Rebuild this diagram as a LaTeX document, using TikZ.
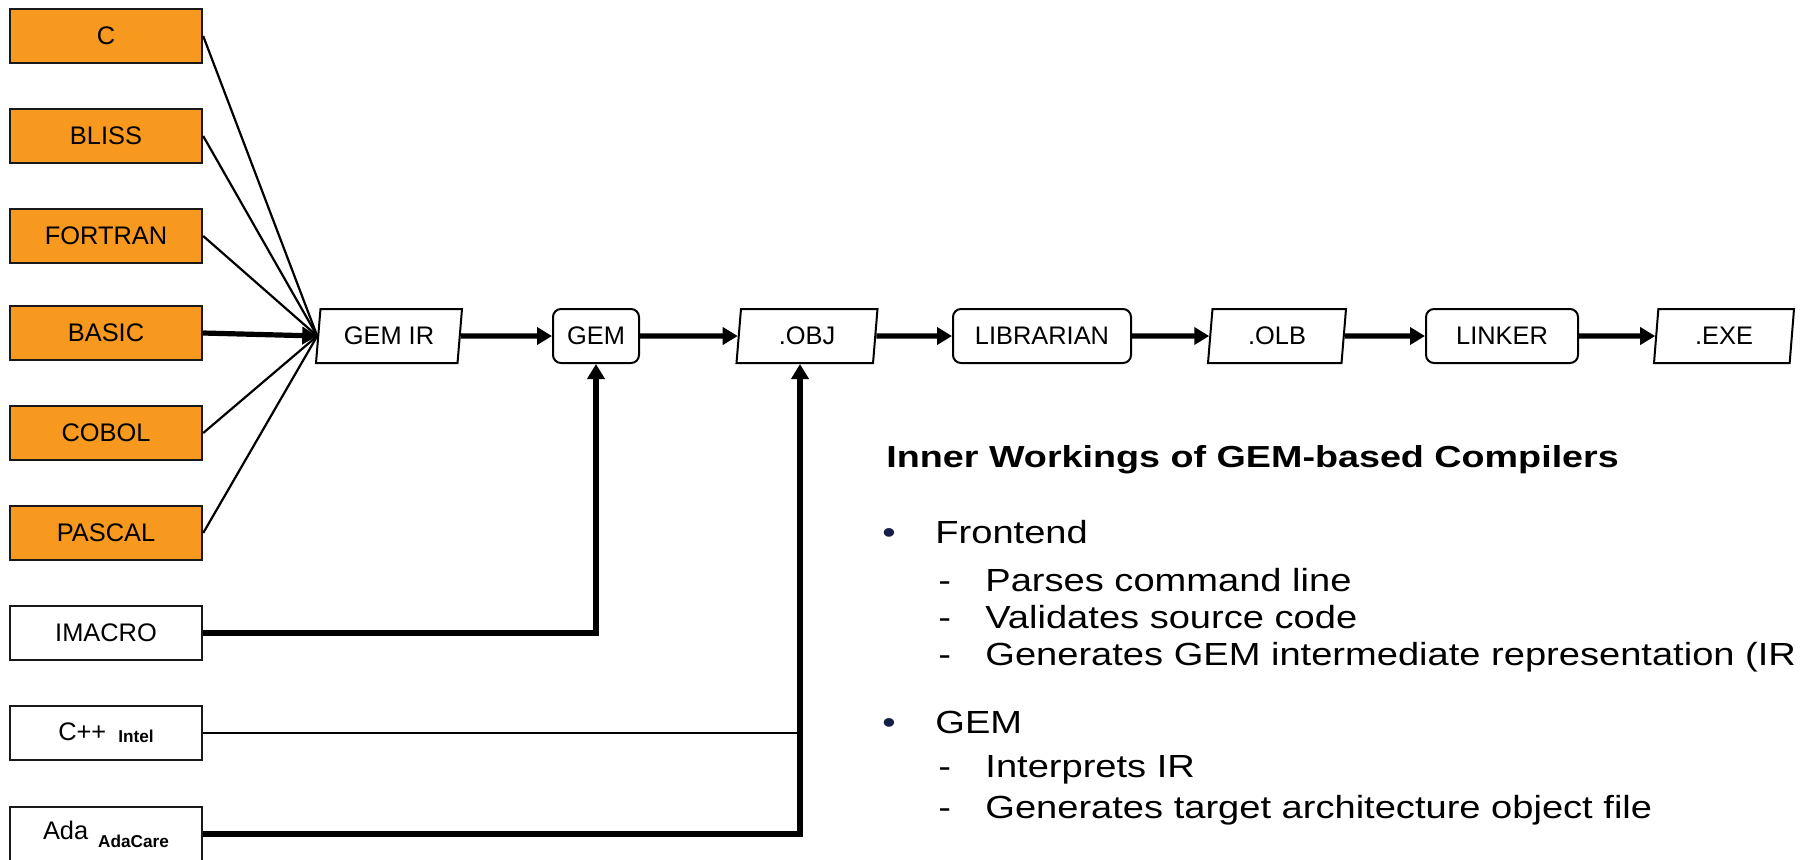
\documentclass[tikz,border=0pt]{standalone}
\usepackage{fontspec}
\setmainfont{Liberation Sans}
\newfontfamily\bodyfont[FakeStretch=1.19]{Liberation Sans}
\newfontfamily\titlefont[FakeStretch=1.24]{Liberation Sans}
\usepackage{tikz}
\usetikzlibrary{shapes.geometric,arrows.meta}
\definecolor{gemorange}{RGB}{247,153,30}
\definecolor{bulletblue}{RGB}{20,30,70}
\newcommand{\boxfont}{\fontsize{12.7}{14}\selectfont}
\newcommand{\subfont}{\fontsize{8.6}{10}\selectfont\bfseries}
\tikzstyle{srcbox}=[draw=black!90,fill=gemorange,line width=1.2pt,minimum width=96pt,minimum height=27pt,inner sep=0pt,font=\boxfont]
\tikzstyle{plainbox}=[srcbox,fill=white]
\tikzstyle{procbox}=[draw,rounded corners=4pt,line width=1pt,minimum height=27pt,inner sep=0pt,font=\boxfont]
\tikzstyle{databox}=[draw,trapezium,trapezium left angle=76,trapezium right angle=104,trapezium stretches body,line width=1pt,minimum height=27pt,inner sep=0pt,font=\boxfont]
\tikzstyle{flow}=[line width=2.6pt,-{Triangle[length=7.5pt,width=8.5pt]}]
\tikzstyle{feed}=[line width=1.1pt]
\tikzstyle{heading}=[anchor=base west,inner sep=0pt,font=\titlefont\fontsize{15.2}{17}\selectfont\bfseries]
\tikzstyle{item}=[anchor=base west,inner sep=0pt,font=\bodyfont\fontsize{16}{19}\selectfont]
\tikzstyle{bulletmark}=[item,text=bulletblue]
\newcommand{\pxsize}{0.5pt}

\begin{document}
\begin{tikzpicture}[x=\pxsize,y=-\pxsize]
    \useasboundingbox (0,0) rectangle (1803,859);
%   source languages
    \node[srcbox] (c)       at (106,36)  {C};
    \node[srcbox] (bliss)   at (106,136) {BLISS};
    \node[srcbox] (fortran) at (106,236) {FORTRAN};
    \node[srcbox] (basic)   at (106,333) {BASIC};
    \node[srcbox] (cobol)   at (106,433) {COBOL};
    \node[srcbox] (pascal)  at (106,533) {PASCAL};
    \node[plainbox] (imacro) at (106,633) {IMACRO};
    \node[plainbox] (cpp)    at (106,733) {C++\hspace{6pt}\raisebox{-1pt}{\subfont Intel}};
    \node[plainbox] (ada)    at (106,834) {Ada\hspace{5pt}\raisebox{-4pt}{\subfont AdaCare}};
%   main chain
    \node[databox,minimum width=73pt] (gemir) at (389,336) {GEM IR};
    \node[procbox,minimum width=43pt] (gem) at (596,336) {GEM};
    \node[databox,minimum width=70.5pt] (obj) at (807,336) {.OBJ};
    \node[procbox,minimum width=89pt] (librarian) at (1042,336) {LIBRARIAN};
    \node[databox,minimum width=69pt] (olb) at (1277,336) {.OLB};
    \node[procbox,minimum width=76pt] (linker) at (1502,336) {LINKER};
    \node[databox,minimum width=70pt] (exe) at (1724,336) {.EXE};
    \coordinate (objin) at ([xshift=-3.5pt]obj.south);
%   front ends into GEM IR
    \draw[feed] (c.east) -- (gemir.west);
    \draw[feed] (bliss.east) -- (gemir.west);
    \draw[feed] (fortran.east) -- (gemir.west);
    \draw[feed] (cobol.east) -- (gemir.west);
    \draw[feed] (pascal.east) -- (gemir.west);
    \draw[flow] (basic.east) -- (gemir.west);
    \draw[flow] (gemir.east) -- (gem.west);
    \draw[flow] (gem.east) -- (obj.west);
    \draw[flow] (obj.east) -- (librarian.west);
    \draw[flow] (librarian.east) -- (olb.west);
    \draw[flow] (olb.east) -- (linker.west);
    \draw[flow] (linker.east) -- (exe.west);
    \draw[flow] (imacro.east) -| (gem.south);
    \draw[feed] (cpp.east) -- (cpp.east -| objin);
    \draw[flow] (ada.east) -| (objin);
%   notes
    \node[heading] (title) at (886,467) {Inner Workings of GEM-based Compilers};
    \node[bulletmark] (b1) at (882,543) {•};
    \node[item] (frontend) at (935,543) {Frontend};
    \node[item] (d1) at (938,591) {-};
    \node[item] (parses) at (985,591) {Parses command line};
    \node[item] (d2) at (938,628) {-};
    \node[item] (validates) at (985,628) {Validates source code};
    \node[item] (d3) at (938,665) {-};
    \node[item] (genir) at (985,665) {Generates GEM intermediate representation (IR};
    \node[bulletmark] (b2) at (882,733) {•};
    \node[item] (gemitem) at (935,733) {GEM};
    \node[item] (d4) at (938,777) {-};
    \node[item] (interprets) at (985,777) {Interprets IR};
    \node[item] (d5) at (938,818) {-};
    \node[item] (genobj) at (985,818) {Generates target architecture object file};
\end{tikzpicture}
\end{document}
